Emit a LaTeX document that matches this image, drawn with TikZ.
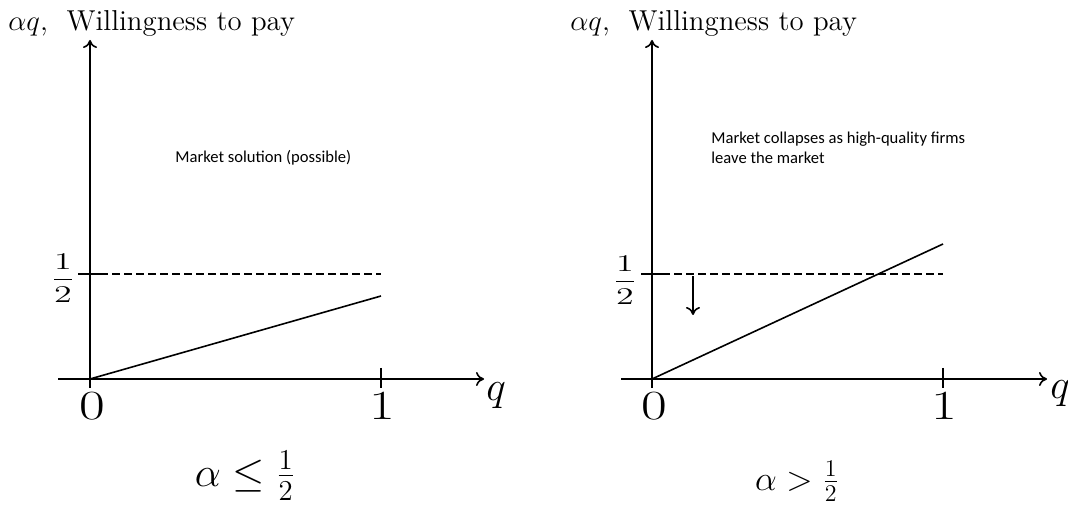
\documentclass[tikz,border=0pt]{standalone}
\usepackage{fontspec}
\newfontfamily\notefont{Carlito}
\usetikzlibrary{arrows.meta,positioning}

\begin{document}
\begin{tikzpicture}[
    x=0.5pt, y=-0.5pt,
    >={To[length=4pt,width=7pt]},
    axis/.style={->, line width=0.8pt},
    tickmark/.style={line width=0.8pt},
    level/.style={dash pattern=on 4pt off 2pt, line width=0.7pt},
    curve/.style={line width=0.8pt},
    every node/.style={inner sep=0pt},
    ylab/.style={anchor=base west, font=\fontsize{14.4}{17}\selectfont},
    num/.style={anchor=base, font=\fontsize{19.5}{22}\selectfont},
    qlab/.style={anchor=base west, font=\fontsize{19.5}{22}\selectfont},
    half/.style={font=\fontsize{12.5}{15}\selectfont},
    note/.style={anchor=north west, font=\notefont\fontsize{8.3}{10}\selectfont, align=left}
  ]
  \useasboundingbox (0,0) rectangle (1068,506);

  % left panel: alpha <= 1/2
  \begin{scope}[shift={(90,379)}]
    \coordinate (oL) at (0,0);
    \coordinate (xsL) at (-32,0);
    \coordinate (xeL) at (394,0);
    \coordinate (ybL) at (0,9);
    \coordinate (ytL) at (0,-339);
    \coordinate (t1aL) at (291,-11);
    \coordinate (t1bL) at (291,9);
    \coordinate (haL) at (-12,-105);
    \coordinate (hbL) at (10,-105);
    \coordinate (hcL) at (291,-105);
    \coordinate (endL) at (291,-83);

    \draw[axis] (xsL) -- (xeL);
    \draw[axis] (ybL) -- (ytL);
    \draw[tickmark] (t1aL) -- (t1bL);
    \draw[tickmark] (haL) -- (hbL);
    \draw[level] (hbL) -- (hcL);
    \draw[curve] (oL) -- (endL);

    \node[ylab] (yaxL) at (-82,-348) {$\alpha q$,\ \ Willingness to pay};
    \node[num] (zeroL) at (2,41) {\scalebox{1.35}[1]{$0$}};
    \node[num] (oneL) at (292,41) {\scalebox{1.35}[1]{$1$}};
    \node[qlab] (qL) at (396,22) {$q$};
    \node[half] (halfL) at (-27,-101) {\scalebox{1.5}[1]{$\displaystyle\frac{1}{2}$}};
    \node[note, anchor=base west] (noteL) at (85,-216) {Market solution (possible)};
    \node[anchor=base, font=\fontsize{20.7}{24}\selectfont] (caseL) at (155,107) {$\alpha\leq\frac{1}{2}$};
  \end{scope}

  % right panel: alpha > 1/2
  \begin{scope}[shift={(652,379)}]
    \coordinate (oR) at (0,0);
    \coordinate (xsR) at (-31,0);
    \coordinate (xeR) at (395,0);
    \coordinate (ybR) at (0,9);
    \coordinate (ytR) at (0,-339);
    \coordinate (t1aR) at (291,-11);
    \coordinate (t1bR) at (291,9);
    \coordinate (haR) at (-11,-105);
    \coordinate (hbR) at (10,-105);
    \coordinate (hcR) at (291,-105);
    \coordinate (endR) at (291,-135);
    \coordinate (dropaR) at (41,-103);
    \coordinate (dropbR) at (41,-64);

    \draw[axis] (xsR) -- (xeR);
    \draw[axis] (ybR) -- (ytR);
    \draw[tickmark] (t1aR) -- (t1bR);
    \draw[tickmark] (haR) -- (hbR);
    \draw[level] (hbR) -- (hcR);
    \draw[curve] (oR) -- (endR);
    \draw[axis] (dropaR) -- (dropbR);

    \node[ylab] (yaxR) at (-82,-348) {$\alpha q$,\ \ Willingness to pay};
    \node[num] (zeroR) at (2,41) {\scalebox{1.35}[1]{$0$}};
    \node[num] (oneR) at (292,41) {\scalebox{1.35}[1]{$1$}};
    \node[qlab] (qR) at (398,20) {$q$};
    \node[half] (halfR) at (-27,-99) {\scalebox{1.5}[1]{$\displaystyle\frac{1}{2}$}};
    \node[note] (noteR) at (59,-247) {Market collapses as high-quality firms\\leave the market};
    \node[anchor=base, font=\fontsize{17.3}{20}\selectfont] (caseR) at (145,111) {$\alpha>\frac{1}{2}$};
  \end{scope}
\end{tikzpicture}
\end{document}
